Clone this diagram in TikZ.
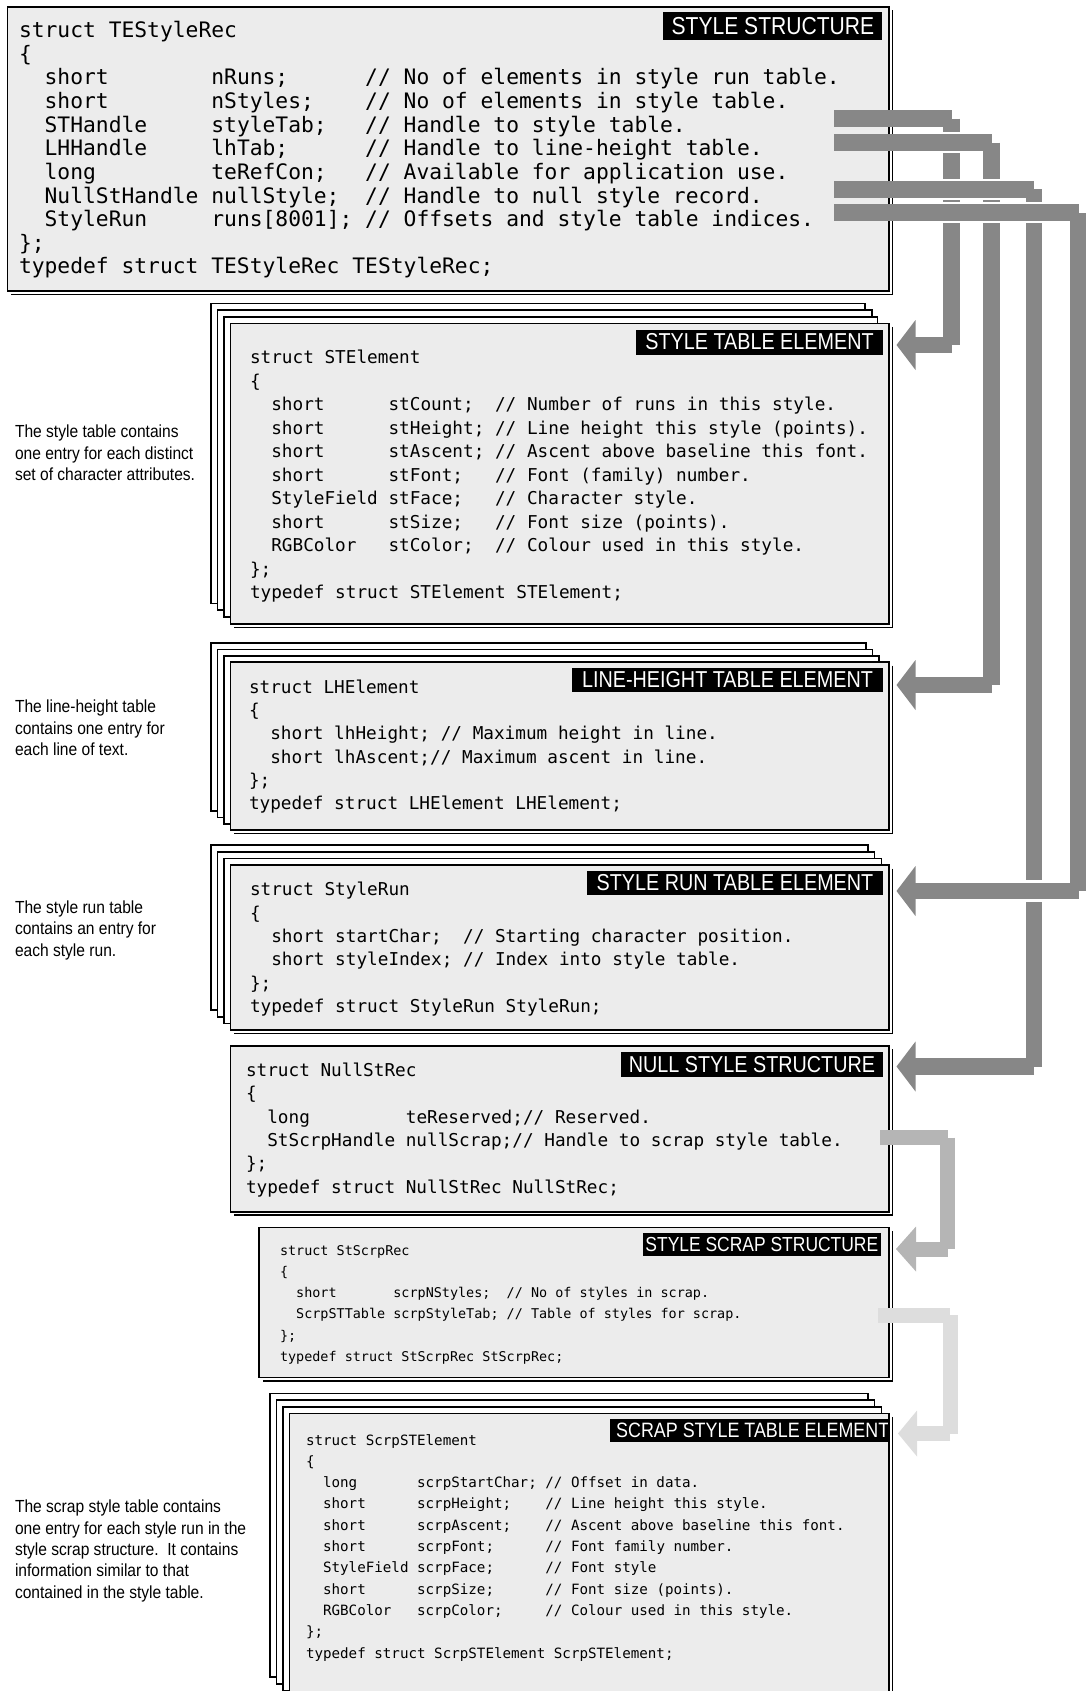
\documentclass[tikz,border=0pt]{standalone}
\usepackage{fontspec}
\newfontfamily\codefont{DejaVu Sans Mono}
\newfontfamily\lblfont{Liberation Sans}[FakeStretch=0.86]
\newfontfamily\notefont{Liberation Sans}[FakeStretch=0.89]
\definecolor{boxgray}{HTML}{ECECEC}
\definecolor{bardark}{HTML}{878787}
\definecolor{barmid}{HTML}{B5B5B5}
\definecolor{barlight}{HTML}{DDDDDD}
\newcommand\fCodeMain{\codefont\fontsize{21.3pt}{25pt}\selectfont}
\newcommand\fCodeMid{\codefont\fontsize{17.7pt}{21pt}\selectfont}
\newcommand\fCodeSS{\codefont\fontsize{13.45pt}{16pt}\selectfont}
\newcommand\fCodeSE{\codefont\fontsize{14.2pt}{17pt}\selectfont}
\newcommand\fLblMain{\lblfont\fontsize{24.5pt}{28pt}\selectfont}
\newcommand\fLbl{\lblfont\fontsize{23pt}{27pt}\selectfont}
\newcommand\fLblSS{\lblfont\fontsize{20.3pt}{24pt}\selectfont}
\newcommand\fLblSE{\lblfont\fontsize{20.8pt}{24pt}\selectfont}
\newcommand\fNote{\notefont\fontsize{17.5pt}{21pt}\selectfont}
\tikzset{
  sheet/.style={draw=black, line width=1.6pt, fill=white, inner sep=0pt, outer sep=0pt, anchor=north west},
  frontsheet/.style={sheet, fill=boxgray},
  shadowline/.style={line width=1.8pt, draw=black},
  lbl/.style={fill=black, text=white, inner sep=0pt, outer sep=0pt},
  codetext/.style={anchor=base west, inner sep=0pt, outer sep=0pt},
  notetext/.style={anchor=base west, inner sep=0pt, outer sep=0pt, font=\fNote},
  darkbar/.style={line width=16.5pt, line cap=butt, draw=bardark},
  halo/.style={line width=21.5pt, line cap=butt, draw=white},
  midbar/.style={line width=15pt, line cap=butt, draw=barmid},
  lightbar/.style={line width=15pt, line cap=butt, draw=barlight}
}
\newcommand\CodeBlock[6]{%
  \foreach \codeline [count=\ci from 0] in {#6}{%
    \node[codetext, font=#5] (#1-\ci) at (#2,{#3+\ci*#4}) {\codeline};}}
\newcommand\NoteBlock[5]{%
  \foreach \noteline [count=\ni from 0] in {#5}{%
    \node[notetext] (#1-\ni) at (#2,{#3+\ni*#4}) {\noteline};}}
\newcommand\Shadow[1]{%
  \draw[shadowline] ([xshift=3.5pt,yshift=-3.5pt]#1.north east) |- ([xshift=3.5pt,yshift=-3.5pt]#1.south west);}
\begin{document}
\frenchspacing
\begin{tikzpicture}[x=1pt,y=-1pt]
\useasboundingbox (0,0) rectangle (1086,1691);

% ---------- main style structure ----------
\node[frontsheet, minimum width=881.5pt, minimum height=284pt] (mainbox) at (7.5,7) {};
\Shadow{mainbox}
\node[lbl, font=\fLblMain, minimum width=219pt, minimum height=27.7pt] (mainlbl) at (772.9,26.15) {STYLE STRUCTURE};
\CodeBlock{main}{19}{37.8}{23.6}{\fCodeMain}{%
{struct~TEStyleRec},{\{},%
{~~short~~~~~~~~nRuns;~~~~~~//~No~of~elements~in~style~run~table.},%
{~~short~~~~~~~~nStyles;~~~~//~No~of~elements~in~style~table.},%
{~~STHandle~~~~~styleTab;~~~//~Handle~to~style~table.},%
{~~LHHandle~~~~~lhTab;~~~~~~//~Handle~to~line-height~table.},%
{~~long~~~~~~~~~teRefCon;~~~//~Available~for~application~use.},%
{~~NullStHandle~nullStyle;~~//~Handle~to~null~style~record.},%
{~~StyleRun~~~~~runs[8001];~//~Offsets~and~style~table~indices.},%
{\};},{typedef~struct~TEStyleRec~TEStyleRec;}}

% ---------- style table element ----------
\node[sheet, minimum width=654pt, minimum height=300pt] (st1) at (211,303.3) {};
\node[sheet, minimum width=654.2pt, minimum height=300pt] (st2) at (217.5,310) {};
\node[sheet, minimum width=653.5pt, minimum height=300pt] (st3) at (224,316.7) {};
\node[frontsheet, minimum width=658.5pt, minimum height=300.7pt] (stf) at (230.5,323.3) {};
\Shadow{stf}
\node[lbl, font=\fLbl, minimum width=247pt, minimum height=25pt] (stlbl) at (759.5,342) {STYLE TABLE ELEMENT};
\CodeBlock{st}{250}{363.5}{23.5}{\fCodeMid}{%
{struct~STElement},{\{},%
{~~short~~~~~~stCount;~~//~Number~of~runs~in~this~style.},%
{~~short~~~~~~stHeight;~//~Line~height~this~style~(points).},%
{~~short~~~~~~stAscent;~//~Ascent~above~baseline~this~font.},%
{~~short~~~~~~stFont;~~~//~Font~(family)~number.},%
{~~StyleField~stFace;~~~//~Character~style.},%
{~~short~~~~~~stSize;~~~//~Font~size~(points).},%
{~~RGBColor~~~stColor;~~//~Colour~used~in~this~style.},%
{\};},{typedef~struct~STElement~STElement;}}
\NoteBlock{stnote}{15}{437.7}{21.5}{{The style table contains},{one entry for each distinct},{set of character attributes.}}

% ---------- line-height table element ----------
\node[sheet, minimum width=655pt, minimum height=168pt] (lh1) at (211,643) {};
\node[sheet, minimum width=655pt, minimum height=168pt] (lh2) at (217.5,649.5) {};
\node[sheet, minimum width=655pt, minimum height=168pt] (lh3) at (224,656) {};
\node[frontsheet, minimum width=658.5pt, minimum height=168pt] (lhf) at (230.5,662) {};
\Shadow{lhf}
\node[lbl, font=\fLbl, minimum width=311pt, minimum height=24.6pt] (lhlbl) at (727.5,680) {LINE-HEIGHT TABLE ELEMENT};
\CodeBlock{lh}{249}{693}{23.35}{\fCodeMid}{%
{struct~LHElement},{\{},%
{~~short~lhHeight;~//~Maximum~height~in~line.},%
{~~short~lhAscent;//~Maximum~ascent~in~line.},%
{\};},{typedef~struct~LHElement~LHElement;}}
\NoteBlock{lhnote}{15}{712.7}{21.5}{{The line-height table},{contains one entry for},{each line of text.}}

% ---------- style run table element ----------
\node[sheet, minimum width=656.8pt, minimum height=165pt] (sr1) at (211,845) {};
\node[sheet, minimum width=657pt, minimum height=165pt] (sr2) at (217.5,851.7) {};
\node[sheet, minimum width=657.6pt, minimum height=165pt] (sr3) at (224,858.3) {};
\node[frontsheet, minimum width=658.5pt, minimum height=165pt] (srf) at (230.5,865) {};
\Shadow{srf}
\node[lbl, font=\fLbl, minimum width=296pt, minimum height=24.3pt] (srlbl) at (735,882.85) {STYLE RUN TABLE ELEMENT};
\CodeBlock{sr}{250}{895.8}{23.35}{\fCodeMid}{%
{struct~StyleRun},{\{},%
{~~short~startChar;~~//~Starting~character~position.},%
{~~short~styleIndex;~//~Index~into~style~table.},%
{\};},{typedef~struct~StyleRun~StyleRun;}}
\NoteBlock{srnote}{15}{913.3}{21.5}{{The style run table},{contains an entry for},{each style run.}}

% ---------- null style structure ----------
\node[frontsheet, minimum width=658.5pt, minimum height=166pt] (nsf) at (230.5,1045.7) {};
\Shadow{nsf}
\node[lbl, font=\fLbl, minimum width=262pt, minimum height=25pt] (nslbl) at (752,1064.2) {NULL STYLE STRUCTURE};
\CodeBlock{ns}{246}{1076.5}{23.3}{\fCodeMid}{%
{struct~NullStRec},{\{},%
{~~long~~~~~~~~~teReserved;//~Reserved.},%
{~~StScrpHandle~nullScrap;//~Handle~to~scrap~style~table.},%
{\};},{typedef~struct~NullStRec~NullStRec;}}

% ---------- style scrap structure ----------
\node[frontsheet, minimum width=630pt, minimum height=150pt] (ssf) at (259,1227.3) {};
\Shadow{ssf}
\node[lbl, font=\fLblSS, minimum width=238.3pt, minimum height=23.3pt] (sslbl) at (761.85,1244.35) {STYLE SCRAP STRUCTURE};
\CodeBlock{ss}{280}{1255}{21.3}{\fCodeSS}{%
{struct~StScrpRec},{\{},%
{~~short~~~~~~~scrpNStyles;~~//~No~of~styles~in~scrap.},%
{~~ScrpSTTable~scrpStyleTab;~//~Table~of~styles~for~scrap.},%
{\};},{typedef~struct~StScrpRec~StScrpRec;}}

% ---------- scrap style table element ----------
\node[sheet, minimum width=597.8pt, minimum height=283.7pt] (se1) at (270,1393.3) {};
\node[sheet, minimum width=598.1pt, minimum height=283.7pt] (se2) at (276.5,1400) {};
\node[sheet, minimum width=598.6pt, minimum height=283.7pt] (se3) at (283,1406.7) {};
\node[frontsheet, minimum width=599.5pt, minimum height=283.7pt] (sef) at (289.5,1413.3) {};
\Shadow{sef}
\begin{scope}
\clip (600,1410) rectangle (888.2,1450);
\node[lbl, minimum width=280pt, minimum height=23pt, anchor=north west] (selbl) at (610,1419) {};
\node[anchor=base west, inner sep=0pt, text=white, font=\fLblSE] (selbltext) at (616,1437.8) {SCRAP STYLE TABLE ELEMENT};
\end{scope}
\draw[line width=1.6pt] (sef.north east) -- (sef.south east);
\CodeBlock{se}{306}{1445}{21.3}{\fCodeSE}{%
{struct~ScrpSTElement},{\{},%
{~~long~~~~~~~scrpStartChar;~//~Offset~in~data.},%
{~~short~~~~~~scrpHeight;~~~~//~Line~height~this~style.},%
{~~short~~~~~~scrpAscent;~~~~//~Ascent~above~baseline~this~font.},%
{~~short~~~~~~scrpFont;~~~~~~//~Font~family~number.},%
{~~StyleField~scrpFace;~~~~~~//~Font~style},%
{~~short~~~~~~scrpSize;~~~~~~//~Font~size~(points).},%
{~~RGBColor~~~scrpColor;~~~~~//~Colour~used~in~this~style.},%
{\};},{typedef~struct~ScrpSTElement~ScrpSTElement;}}
\NoteBlock{senote}{15}{1512.8}{21.3}{{The scrap style table contains},{one entry for each style run in the},{style scrap structure.~~It contains},{information similar to that},{contained in the style table.}}

% ---------- connectors ----------
% 1: styleTab -> style table element
\coordinate (k1s) at (834,118.7);
\coordinate (k1a) at (951.7,118.7);
\coordinate (k1b) at (951.7,345);
\coordinate (k1e) at (914,345);
\coordinate (k1t) at (896.5,345);
\draw[darkbar] (k1s) -- (k1a);
\draw[darkbar] (k1a) -- (k1b);
\draw[darkbar] (k1b) -- (k1e);
\fill[bardark] (k1t) -- ++(19,-25) -- ++(0,50) -- cycle;

% 2: lhTab -> line-height table element
\coordinate (k2h) at (893,142.7);
\coordinate (k2s) at (834,142.7);
\coordinate (k2a) at (991.5,142.7);
\coordinate (k2b) at (991.5,685);
\coordinate (k2e) at (914,685);
\coordinate (k2t) at (896.5,685);
\draw[halo] (k2h) -- (k2a);
\draw[halo] (k2a) -- (k2b);
\draw[halo] (k2b) -- (k2e);
\draw[darkbar] (k2s) -- (k2a);
\draw[darkbar] (k2a) -- (k2b);
\draw[darkbar] (k2b) -- (k2e);
\fill[bardark] (k2t) -- ++(19,-25) -- ++(0,50) -- cycle;

% 3: nullStyle -> null style structure
\coordinate (k3h) at (893,189.3);
\coordinate (k3s) at (834,189.3);
\coordinate (k3a) at (1034,189.3);
\coordinate (k3b) at (1034,1066.5);
\coordinate (k3e) at (914,1066.5);
\coordinate (k3t) at (896.5,1066.5);
\draw[halo] (k3h) -- (k3a);
\draw[halo] (k3a) -- (k3b);
\draw[halo] (k3b) -- (k3e);
\draw[darkbar] (k3s) -- (k3a);
\draw[darkbar] (k3a) -- (k3b);
\draw[darkbar] (k3b) -- (k3e);
\fill[bardark] (k3t) -- ++(19,-25) -- ++(0,50) -- cycle;

% 4: runs -> style run table element
\coordinate (k4h) at (893,212.7);
\coordinate (k4s) at (834,212.7);
\coordinate (k4a) at (1078.5,212.7);
\coordinate (k4b) at (1078.5,891);
\coordinate (k4e) at (914,891);
\coordinate (k4t) at (896.5,891);
\draw[halo] (k4h) -- (k4a);
\draw[halo] (k4a) -- (k4b);
\draw[halo] (k4b) -- (k4e);
\draw[darkbar] (k4s) -- (k4a);
\draw[darkbar] (k4a) -- (k4b);
\draw[darkbar] (k4b) -- (k4e);
\fill[bardark] (k4t) -- ++(19,-25) -- ++(0,50) -- cycle;

% 5: nullScrap -> style scrap structure
\coordinate (k5s) at (880,1137.5);
\coordinate (k5a) at (947.5,1137.5);
\coordinate (k5b) at (947.5,1249);
\coordinate (k5e) at (915,1249);
\coordinate (k5t) at (896,1249);
\draw[midbar] (k5s) -- (k5a);
\draw[midbar] (k5a) -- (k5b);
\draw[midbar] (k5b) -- (k5e);
\fill[barmid] (k5t) -- ++(20,-22.5) -- ++(0,45) -- cycle;

% 6: scrpStyleTab -> scrap style table element
\coordinate (k6s) at (878,1315);
\coordinate (k6a) at (950,1315);
\coordinate (k6b) at (950,1433.5);
\coordinate (k6e) at (916,1433.5);
\coordinate (k6t) at (898,1433.5);
\draw[lightbar] (k6s) -- (k6a);
\draw[lightbar] (k6a) -- (k6b);
\draw[lightbar] (k6b) -- (k6e);
\fill[barlight] (k6t) -- ++(19,-23) -- ++(0,46) -- cycle;
\end{tikzpicture}
\end{document}
